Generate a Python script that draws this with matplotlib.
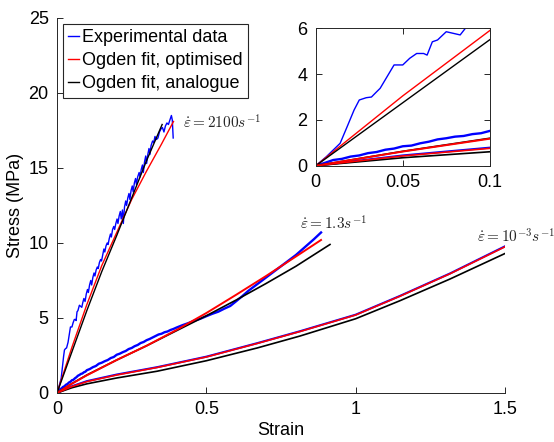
import matplotlib
matplotlib.use("Agg")
import matplotlib.pyplot as plt
from matplotlib.lines import Line2D

plt.rcParams['font.family'] = ['Liberation Sans', 'DejaVu Sans']
plt.rcParams['mathtext.fontset'] = 'cm'

# strain rate 2100 /s
exp_2100_strain = [0, 0.006, 0.014, 0.018, 0.022, 0.025, 0.029, 0.032, 0.035, 0.037,
                   0.041, 0.045, 0.050, 0.054, 0.058, 0.062, 0.064, 0.067, 0.070, 0.075,
                   0.079, 0.083, 0.086, 0.090, 0.094, 0.098, 0.102, 0.105, 0.109, 0.113,
                   0.116, 0.120, 0.124, 0.127, 0.131, 0.135, 0.138, 0.142, 0.146, 0.149,
                   0.153, 0.157, 0.160, 0.164, 0.168, 0.171, 0.175, 0.179, 0.182, 0.186,
                   0.190, 0.193, 0.197, 0.201, 0.204, 0.208, 0.212, 0.215, 0.219, 0.222,
                   0.226, 0.230, 0.233, 0.237, 0.241, 0.244, 0.248, 0.252, 0.255, 0.259,
                   0.263, 0.266, 0.270, 0.275, 0.278, 0.282, 0.286, 0.289, 0.293, 0.297,
                   0.300, 0.304, 0.308, 0.311, 0.315, 0.320, 0.324, 0.328, 0.333, 0.338,
                   0.343, 0.348, 0.353, 0.358, 0.363, 0.368, 0.373, 0.378, 0.383, 0.386,
                   0.389]
exp_2100_stress = [0, 0.39, 0.98, 1.7, 2.43, 2.87, 2.97, 3.0, 3.23, 3.38,
                   3.89, 4.4, 4.4, 4.69, 4.9, 4.9, 4.83, 5.41, 5.49, 5.85,
                   5.78, 5.71, 6.0, 6.3, 6.1, 6.6, 6.9, 6.7, 7.2, 7.5,
                   7.2, 7.7, 8.0, 7.8, 8.2, 8.4, 8.3, 8.7, 8.9, 8.8,
                   9.2, 9.6, 9.4, 9.8, 10.0, 9.9, 10.3, 10.6, 10.4, 10.9,
                   11.1, 10.9, 11.3, 11.6, 11.3, 11.8, 12.1, 11.6, 12.2, 11.3,
                   12.4, 12.8, 12.5, 13.0, 13.3, 12.9, 13.5, 13.8, 13.4, 14.0,
                   14.3, 13.9, 14.4, 14.7, 14.4, 14.9, 15.2, 14.7, 15.4, 15.8,
                   15.3, 15.9, 16.3, 15.9, 16.5, 16.8, 16.7, 17.1, 16.9, 17.0,
                   17.4, 17.6, 17.7, 17.4, 17.8, 18.0, 17.9, 18.2, 18.5, 18.2,
                   17.0]
opt_2100_strain = [0, 0.05, 0.1, 0.15, 0.2, 0.25, 0.3, 0.35, 0.39]
opt_2100_stress = [0, 3.05, 5.9, 8.5, 10.7, 12.9, 14.8, 16.6, 18.1]
ana_2100_strain = [0, 0.05, 0.1, 0.15, 0.2, 0.25, 0.3, 0.352]
ana_2100_stress = [0, 2.75, 5.5, 8.1, 10.5, 13.0, 15.5, 17.9]

# strain rate 1.3 /s
exp_13_strain = [0, 0.005, 0.01, 0.015, 0.02, 0.025, 0.03, 0.035, 0.04, 0.045,
                 0.05, 0.055, 0.06, 0.065, 0.07, 0.075, 0.08, 0.085, 0.09, 0.095,
                 0.1, 0.11, 0.12, 0.13, 0.14, 0.15, 0.16, 0.17, 0.18, 0.19,
                 0.2, 0.21, 0.22, 0.23, 0.24, 0.25, 0.26, 0.27, 0.28, 0.29,
                 0.3, 0.31, 0.32, 0.33, 0.34, 0.35, 0.36, 0.37, 0.38, 0.39,
                 0.4, 0.42, 0.44, 0.46, 0.48, 0.5, 0.52, 0.54, 0.56, 0.58,
                 0.6, 0.62, 0.64, 0.66, 0.68, 0.7, 0.72, 0.74, 0.76, 0.78,
                 0.8, 0.82, 0.84, 0.86, 0.884]
exp_13_stress = [0, 0.12, 0.25, 0.3, 0.4, 0.45, 0.55, 0.6, 0.7, 0.75,
                 0.85, 0.88, 0.98, 1.05, 1.15, 1.2, 1.27, 1.3, 1.38, 1.42,
                 1.52, 1.6, 1.72, 1.8, 1.95, 2.02, 2.12, 2.2, 2.33, 2.4,
                 2.55, 2.62, 2.72, 2.8, 2.93, 3.0, 3.12, 3.2, 3.33, 3.4,
                 3.52, 3.6, 3.7, 3.8, 3.9, 3.95, 4.05, 4.1, 4.2, 4.27,
                 4.36, 4.52, 4.66, 4.82, 4.95, 5.12, 5.28, 5.42, 5.62, 5.8,
                 6.12, 6.45, 6.8, 7.1, 7.4, 7.7, 8.0, 8.3, 8.6, 8.9,
                 9.2, 9.55, 9.9, 10.25, 10.7]
opt_13_strain = [0, 0.05, 0.1, 0.2, 0.3, 0.4, 0.5, 0.6, 0.7, 0.8, 0.884]
opt_13_stress = [0, 0.62, 1.18, 2.2, 3.15, 4.2, 5.33, 6.55, 7.8, 9.1, 10.2]
ana_13_strain = [0, 0.05, 0.1, 0.2, 0.3, 0.4, 0.5, 0.6, 0.7, 0.8, 0.914]
ana_13_stress = [0, 0.63, 1.2, 2.2, 3.15, 4.15, 5.15, 6.2, 7.3, 8.45, 9.9]

# strain rate 1e-3 /s
exp_slow_strain = [0, 0.05, 0.1, 0.2, 0.335, 0.5, 0.67, 0.814, 1.0, 1.148, 1.316, 1.5]
exp_slow_stress = [0, 0.45, 0.79, 1.23, 1.72, 2.42, 3.32, 4.12, 5.22, 6.47, 7.97, 9.78]
opt_slow_strain = [0, 0.05, 0.1, 0.2, 0.335, 0.5, 0.67, 0.814, 1.0, 1.148, 1.316, 1.5]
opt_slow_stress = [0, 0.43, 0.76, 1.2, 1.7, 2.4, 3.3, 4.1, 5.2, 6.45, 7.95, 9.75]
ana_slow_strain = [0, 0.05, 0.1, 0.2, 0.335, 0.5, 0.67, 0.814, 1.0, 1.148, 1.316, 1.5]
ana_slow_stress = [0, 0.35, 0.61, 1.0, 1.45, 2.15, 3.0, 3.8, 4.95, 6.15, 7.6, 9.3]

BLUE = '#0000ff'
RED = '#ff0000'
BLACK = '#000000'
AX_GREY = '#262626'


def draw_curves(ax):
    ax.plot(exp_2100_strain, exp_2100_stress, color=BLUE, lw=1.0)
    ax.plot(exp_13_strain, exp_13_stress, color=BLUE, lw=1.7)
    ax.plot(exp_slow_strain, exp_slow_stress, color=BLUE, lw=1.5)
    ax.plot(opt_2100_strain, opt_2100_stress, color=RED, lw=1.0)
    ax.plot(ana_2100_strain, ana_2100_stress, color=BLACK, lw=1.0)
    ax.plot(ana_13_strain, ana_13_stress, color=BLACK, lw=1.2)
    ax.plot(opt_13_strain, opt_13_stress, color=RED, lw=1.4)
    ax.plot(ana_slow_strain, ana_slow_stress, color=BLACK, lw=1.2)
    ax.plot(opt_slow_strain, opt_slow_stress, color=RED, lw=1.2)


def style_axes(ax, box):
    for side in ['left', 'bottom', 'top', 'right']:
        ax.spines[side].set_color(AX_GREY)
        ax.spines[side].set_linewidth(0.7)
    if not box:
        ax.spines['top'].set_visible(False)
        ax.spines['right'].set_visible(False)
    ax.tick_params(direction='in', length=4, width=0.7, color=AX_GREY,
                   labelsize=13, labelcolor='black', pad=6,
                   top=box, right=box)


fig = plt.figure(figsize=(5.54, 4.42), dpi=100)
ax = fig.add_axes([0.1029, 0.1109, 0.8087, 0.8484])
draw_curves(ax)
ax.set_xlim(0, 1.5)
ax.set_ylim(0, 25)
ax.set_xticks([0, 0.5, 1, 1.5])
ax.set_xticklabels(['0', '0.5', '1', '1.5'])
ax.set_yticks([0, 5, 10, 15, 20, 25])
style_axes(ax, box=False)
ax.set_xlabel('Strain', fontsize=13, labelpad=3)
ax.set_ylabel('Stress (MPa)', fontsize=13, labelpad=3)

ax.text(0.422, 18.0, r'$\dot{\varepsilon}=2100s^{-1}$', fontsize=11, color='#262626',
        va='center')
ax.text(0.813, 11.3, r'$\dot{\varepsilon}=1.3s^{-1}$', fontsize=11, color='#262626',
        va='center')
ax.text(1.405, 10.45, r'$\dot{\varepsilon}=10^{-3}s^{-1}$', fontsize=11, color='#262626',
        va='center', clip_on=False)

handles = [Line2D([], [], color=BLUE, lw=1.0),
           Line2D([], [], color=RED, lw=1.0),
           Line2D([], [], color=BLACK, lw=1.0)]
leg = ax.legend(handles, ['Experimental data', 'Ogden fit, optimised', 'Ogden fit, analogue'],
                loc='upper left', bbox_to_anchor=(0.013, 0.984), fontsize=13,
                handlelength=0.6, handletextpad=0.15, borderpad=0.3,
                labelspacing=0.33, borderaxespad=0, fancybox=False, framealpha=1)
leg.get_frame().set_edgecolor(AX_GREY)
leg.get_frame().set_linewidth(0.8)

# inset: zoom on small strains
ins = fig.add_axes([0.570, 0.625, 0.314, 0.311])
draw_curves(ins)
ins.set_xlim(0, 0.1)
ins.set_ylim(0, 6)
ins.set_xticks([0, 0.05, 0.1])
ins.set_xticklabels(['0', '0.05', '0.1'])
ins.set_yticks([0, 2, 4, 6])
style_axes(ins, box=True)

fig.savefig('out.png', dpi=100)
